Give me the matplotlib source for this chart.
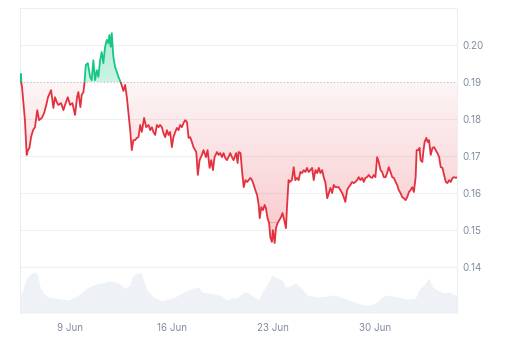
import numpy as np
import matplotlib
matplotlib.use("agg")
import matplotlib.pyplot as plt
from matplotlib.colors import to_rgb
from matplotlib.patches import PathPatch, Rectangle

plt.rcParams["font.family"] = ["Inter", "DejaVu Sans"]

# price trace: day of June (fractional) and price in USD
days = [5.56, 5.63, 5.66, 5.70, 5.90, 6.02, 6.11, 6.21, 6.32, 6.46, 6.59, 6.75, 6.87, 7.06, 7.22,
        7.40, 7.49, 7.70, 7.86, 7.97, 8.09, 8.20, 8.39, 8.55, 8.66, 8.85, 9.01, 9.17, 9.35, 9.49,
        9.58, 9.72, 9.81, 9.93, 10.00, 10.09, 10.23, 10.39, 10.50, 10.61, 10.73, 10.85, 10.96, 11.08, 11.19,
        11.30, 11.42, 11.54, 11.65, 11.72, 11.81, 11.88, 11.99, 12.11, 12.34, 12.52, 12.68, 12.80, 12.92, 13.03,
        13.15, 13.26, 13.37, 13.49, 13.61, 13.72, 13.84, 13.95, 14.11, 14.25, 14.41, 14.53, 14.64, 14.75, 14.87,
        14.99, 15.10, 15.21, 15.33, 15.44, 15.56, 15.68, 15.79, 15.90, 16.02, 16.13, 16.25, 16.37, 16.48, 16.59,
        16.71, 16.82, 16.94, 17.06, 17.17, 17.28, 17.40, 17.51, 17.70, 17.81, 17.93, 18.09, 18.20, 18.37, 18.48,
        18.62, 18.73, 18.85, 18.96, 19.13, 19.24, 19.35, 19.47, 19.58, 19.70, 19.81, 19.92, 20.04, 20.16, 20.27,
        20.45, 20.55, 20.62, 20.75, 20.86, 20.97, 21.09, 21.20, 21.31, 21.43, 21.54, 21.66, 21.77, 21.89, 22.00,
        22.07, 22.18, 22.30, 22.41, 22.50, 22.61, 22.72, 22.80, 22.91, 22.98, 23.10, 23.19, 23.30, 23.42, 23.54,
        23.64, 23.76, 23.88, 23.95, 24.06, 24.13, 24.29, 24.41, 24.52, 24.64, 24.75, 24.87, 24.99, 25.10, 25.22,
        25.33, 25.44, 25.56, 25.68, 25.79, 25.91, 26.03, 26.14, 26.25, 26.37, 26.48, 26.60, 26.72, 26.83, 26.94,
        27.06, 27.17, 27.28, 27.40, 27.51, 27.63, 27.75, 27.86, 27.97, 28.09, 28.20, 28.32, 28.43, 28.55, 28.66,
        28.78, 28.89, 29.01, 29.13, 29.24, 29.35, 29.47, 29.58, 29.70, 29.81, 29.93, 30.04, 30.16, 30.27, 30.39,
        30.50, 30.62, 30.74, 30.85, 30.96, 31.08, 31.20, 31.31, 31.43, 31.54, 31.65, 31.77, 31.89, 32.00, 32.12,
        32.23, 32.35, 32.46, 32.58, 32.69, 32.81, 32.88, 33.00, 33.08, 33.15, 33.27, 33.34, 33.43, 33.55, 33.64,
        33.73, 33.85, 33.97, 34.08, 34.19, 34.31, 34.43, 34.54, 34.66, 34.77, 34.89, 35.00, 35.12, 35.23, 35.35,
        35.47, 35.58, 35.70]
price = [0.1900, 0.1922, 0.1895, 0.1886, 0.1797, 0.1703, 0.1716, 0.1722, 0.1751, 0.1770, 0.1778, 0.1824, 0.1797, 0.1803, 0.1816,
         0.1843, 0.1859, 0.1878, 0.1830, 0.1859, 0.1846, 0.1838, 0.1843, 0.1824, 0.1838, 0.1859, 0.1838, 0.1843, 0.1811, 0.1859,
         0.1873, 0.1832, 0.1865, 0.1873, 0.1897, 0.1946, 0.1951, 0.1914, 0.1905, 0.1959, 0.1905, 0.1932, 0.1914, 0.1959, 0.1981,
         0.1951, 0.1995, 0.2014, 0.2005, 0.2027, 0.1995, 0.2032, 0.1968, 0.1941, 0.1914, 0.1897, 0.1876, 0.1892, 0.1859, 0.1816,
         0.1770, 0.1716, 0.1743, 0.1743, 0.1749, 0.1751, 0.1784, 0.1765, 0.1803, 0.1778, 0.1784, 0.1770, 0.1778, 0.1765, 0.1757,
         0.1784, 0.1778, 0.1784, 0.1778, 0.1762, 0.1751, 0.1770, 0.1757, 0.1765, 0.1724, 0.1751, 0.1765, 0.1776, 0.1770, 0.1784,
         0.1778, 0.1789, 0.1797, 0.1792, 0.1749, 0.1751, 0.1738, 0.1724, 0.1711, 0.1649, 0.1689, 0.1703, 0.1716, 0.1697, 0.1716,
         0.1668, 0.1689, 0.1662, 0.1697, 0.1711, 0.1703, 0.1708, 0.1697, 0.1708, 0.1695, 0.1689, 0.1697, 0.1708, 0.1697, 0.1689,
         0.1708, 0.1681, 0.1711, 0.1708, 0.1657, 0.1616, 0.1635, 0.1630, 0.1635, 0.1641, 0.1635, 0.1622, 0.1608, 0.1595, 0.1568,
         0.1532, 0.1562, 0.1554, 0.1568, 0.1559, 0.1532, 0.1519, 0.1481, 0.1468, 0.1500, 0.1465, 0.1505, 0.1519, 0.1527, 0.1535,
         0.1546, 0.1527, 0.1505, 0.1562, 0.1635, 0.1630, 0.1635, 0.1670, 0.1635, 0.1641, 0.1635, 0.1657, 0.1654, 0.1662, 0.1657,
         0.1668, 0.1657, 0.1662, 0.1668, 0.1635, 0.1662, 0.1654, 0.1668, 0.1654, 0.1662, 0.1643, 0.1627, 0.1586, 0.1600, 0.1614,
         0.1600, 0.1622, 0.1616, 0.1616, 0.1616, 0.1608, 0.1600, 0.1589, 0.1576, 0.1608, 0.1616, 0.1622, 0.1630, 0.1627, 0.1630,
         0.1635, 0.1643, 0.1635, 0.1641, 0.1630, 0.1641, 0.1643, 0.1649, 0.1643, 0.1641, 0.1649, 0.1643, 0.1697, 0.1684, 0.1662,
         0.1657, 0.1643, 0.1643, 0.1654, 0.1670, 0.1657, 0.1643, 0.1641, 0.1630, 0.1622, 0.1608, 0.1600, 0.1589, 0.1586, 0.1581,
         0.1589, 0.1603, 0.1608, 0.1616, 0.1603, 0.1643, 0.1716, 0.1716, 0.1722, 0.1689, 0.1684, 0.1711, 0.1738, 0.1749, 0.1738,
         0.1743, 0.1703, 0.1722, 0.1724, 0.1716, 0.1708, 0.1697, 0.1670, 0.1668, 0.1649, 0.1630, 0.1627, 0.1635, 0.1630, 0.1641,
         0.1643, 0.1641, 0.1643]

# trading volume (arbitrary units)
vol_days = [5.56, 5.79, 6.02, 6.37, 6.59, 6.78, 6.94, 7.17, 7.51, 7.97, 8.44, 8.89, 9.35, 9.81, 10.16,
            10.62, 10.96, 11.30, 11.65, 12.11, 12.46, 12.80, 13.15, 13.26, 13.61, 13.90, 14.06, 14.30, 14.75, 15.33,
            15.79, 16.25, 16.71, 17.17, 17.51, 17.86, 18.09, 18.55, 19.01, 19.47, 19.81, 20.16, 20.50, 20.96, 21.31,
            21.77, 22.00, 22.23, 22.57, 22.92, 23.26, 23.61, 23.84, 24.18, 24.53, 24.87, 25.33, 26.02, 26.71, 27.17,
            27.86, 28.55, 29.24, 29.70, 30.16, 30.50, 30.85, 31.54, 32.23, 32.80, 33.03, 33.37, 33.72, 33.96, 34.30,
            34.75, 35.10, 35.56, 35.70]
volume = [16, 25, 35, 40, 41, 38, 26, 20, 16, 15, 14, 13, 16, 20, 25,
          28, 30, 30, 32, 31, 29, 25, 28, 36, 40, 40, 33, 23, 16, 12,
          14, 16, 20, 23, 25, 26, 21, 20, 19, 17, 13, 15, 15, 21, 20,
          15, 13, 21, 28, 38, 35, 33, 26, 27, 30, 26, 18, 16, 17, 18,
          15, 11, 8, 8, 11, 16, 18, 16, 14, 15, 23, 28, 35, 26, 23,
          20, 21, 18, 17]

open_price = 0.19
y_ticks = [0.14, 0.15, 0.16, 0.17, 0.18, 0.19, 0.20]
tick_days = [9, 16, 23, 30]
tick_labels = ["9 Jun", "16 Jun", "23 Jun", "30 Jun"]

RED = "#e3323f"
GREEN = "#16c784"
GREY = "#808a9d"
x0, x1 = 5.56, 35.66
y0, y1 = 0.1276, 0.21


def gradient(color, a_top, a_bottom, n=256):
    img = np.zeros((n, 1, 4))
    img[:, 0, :3] = to_rgb(color)
    img[:, 0, 3] = np.linspace(a_top, a_bottom, n)
    return img


fig = plt.figure(figsize=(5.12, 3.41), dpi=100)
ax = fig.add_axes([20 / 512, 28 / 341, 437 / 512, 305 / 341])

x = np.array(days)
p = np.array(price)

# volume underlay
axv = ax.twinx()
axv.fill_between(vol_days, volume, 0, color="#eef1f5", lw=0)
axv.set_ylim(0, 305)
axv.set_xlim(x0, x1)
axv.axis("off")

# gradient fills between price and opening price
poly = ax.fill_between(x, p, open_price, facecolor="none", edgecolor="none")
clip = PathPatch(poly.get_paths()[0], transform=ax.transData, facecolor="none", edgecolor="none")
ax.add_patch(clip)
im_r = ax.imshow(gradient(RED, 0.05, 0.24), extent=[x0, x1, 0.152, open_price],
                 aspect="auto", zorder=1, interpolation="bilinear")
im_r.set_clip_path(clip)
im_r2 = ax.imshow(gradient(RED, 0.24, 0.24, 2), extent=[x0, x1, y0, 0.152],
                  aspect="auto", zorder=1)
im_r2.set_clip_path(clip)
im_g = ax.imshow(gradient(GREEN, 0.34, 0.22), extent=[x0, x1, open_price, 0.2035],
                 aspect="auto", zorder=1, interpolation="bilinear")
im_g.set_clip_path(clip)

# price line, green above open, red below
ln_g, = ax.plot(x, p, color=GREEN, lw=1.3, zorder=3)
ln_g.set_clip_path(Rectangle((x0, open_price), x1 - x0, 1, transform=ax.transData))
ln_r, = ax.plot(x, p, color=RED, lw=1.3, zorder=3)
ln_r.set_clip_path(Rectangle((x0, 0), x1 - x0, open_price, transform=ax.transData))

ax.axhline(open_price, color="#b5b9c2", lw=0.8, ls=(0, (1, 2)), zorder=2)
for v in y_ticks:
    if v != open_price:
        ax.axhline(v, color="#eff0f2", lw=0.8, zorder=0)

ax.set_xlim(x0, x1)
ax.set_ylim(y0, y1)
ax.yaxis.tick_right()
ax.set_yticks(y_ticks, [f"{v:.2f}" for v in y_ticks])
ax.set_xticks(tick_days, tick_labels)
ax.tick_params(length=0, labelsize=7, colors=GREY)
ax.tick_params(axis="y", pad=4)
ax.tick_params(axis="x", pad=7)
for side in ["top", "left", "right"]:
    ax.spines[side].set_color("#eceef1")
    ax.spines[side].set_linewidth(0.8)
ax.spines["bottom"].set_visible(False)
ax.set_zorder(1)
axv.set_zorder(0)
ax.patch.set_visible(False)

fig.savefig("out.png", dpi=100)
